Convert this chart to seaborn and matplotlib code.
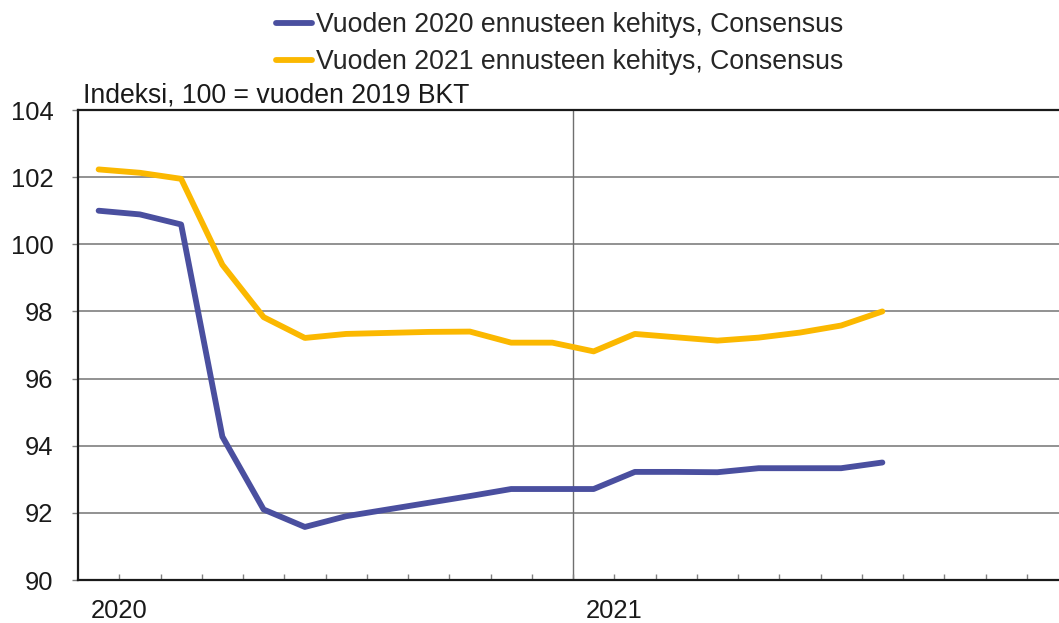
import numpy as np
import pandas as pd
import matplotlib
matplotlib.use("Agg")
import matplotlib.pyplot as plt
import seaborn as sns

# ---- data ----
months = ["2020-01", "2020-02", "2020-03", "2020-04", "2020-05", "2020-06",
          "2020-07", "2020-08", "2020-09", "2020-10", "2020-11", "2020-12",
          "2021-01", "2021-02", "2021-03", "2021-04", "2021-05", "2021-06",
          "2021-07", "2021-08"]
series_2020 = [101.0, 100.89, 100.59, 94.27, 92.10, 91.58, 91.90, 92.10, 92.30, 92.50,
               92.71, 92.71, 92.71, 93.22, 93.22, 93.21, 93.33, 93.33, 93.33, 93.50]
series_2021 = [102.23, 102.13, 101.95, 99.39, 97.83, 97.21, 97.33, 97.36, 97.39, 97.40,
               97.07, 97.07, 96.81, 97.33, 97.23, 97.13, 97.22, 97.37, 97.58, 98.0]
label_2020 = "Vuoden 2020 ennusteen kehitys, Consensus"
label_2021 = "Vuoden 2021 ennusteen kehitys, Consensus"
year_labels = ["2020", "2021"]
y_ticks = [90, 92, 94, 96, 98, 100, 102, 104]
unit_text = "Indeksi, 100 = vuoden 2019 BKT"

# ---- build table ----
dates = pd.PeriodIndex(months, freq="M")
xpos = (dates.year - 2020) * 12 + (dates.month - 1) + 0.5
df = pd.concat([
    pd.DataFrame({"x": xpos, "value": series_2020, "series": label_2020}),
    pd.DataFrame({"x": xpos, "value": series_2021, "series": label_2021}),
])

sns.set_theme(style="white")
plt.rcParams["font.family"] = ["Liberation Sans", "DejaVu Sans"]

W, H = 1059, 623
fig = plt.figure(figsize=(W / 100, H / 100), dpi=100)
left, right, top, bottom = 78, 1068, 110, 580
ax = fig.add_axes([left / W, (H - bottom) / H, (right - left) / W, (bottom - top) / H])

palette = {label_2020: "#4a4f9f", label_2021: "#fbb800"}
sns.lineplot(data=df, x="x", y="value", hue="series", palette=palette,
             linewidth=4.2, ax=ax, legend=True)

ax.set_xlim(0, 24)
ax.set_ylim(90, 104)
ax.set_yticks(y_ticks)
ax.set_yticklabels([str(t) for t in y_ticks], fontsize=18.4, color="#1a1a1a")
ax.tick_params(axis="y", which="major", length=4.3, width=1.0, color="#808080",
               direction="out", pad=13.5, left=True)

# gridlines
for t in y_ticks[1:-1]:
    ax.axhline(t, color="#7f7f7f", lw=1.2, zorder=0.5)
ax.axvline(12, color="#6f6f6f", lw=1.0, zorder=0.5)

# month ticks inward from bottom
ax.set_xticks(np.arange(1, 24))
ax.set_xticklabels([])
ax.tick_params(axis="x", which="major", length=4.5, width=1.0, color="#808080",
               direction="in", bottom=True)
for i, yl in enumerate(year_labels):
    ax.text(1 + 12 * i, 88.86, yl, ha="center", va="baseline", fontsize=18.4,
            color="#1a1a1a")

for s in ["left", "bottom", "top"]:
    ax.spines[s].set_visible(True)
    ax.spines[s].set_color("#1a1a1a")
    ax.spines[s].set_linewidth(1.6)
ax.spines["right"].set_visible(False)
ax.set_xlabel("")
ax.set_ylabel("")

ax.text(5 / (right - left), 1.0 + 2 / (bottom - top), unit_text, transform=ax.transAxes,
        ha="left", va="bottom", fontsize=19.2, color="#1a1a1a")

handles, labels = ax.get_legend_handles_labels()
ax.legend_.remove()
fig.legend(handles, labels, loc="upper left", bbox_to_anchor=(276 / W, 1 - 12.5 / H),
           frameon=False, fontsize=19.2, handlelength=1.35, handletextpad=0.15,
           labelspacing=0.40, borderpad=0, borderaxespad=0)

fig.savefig("out.png", dpi=100)
